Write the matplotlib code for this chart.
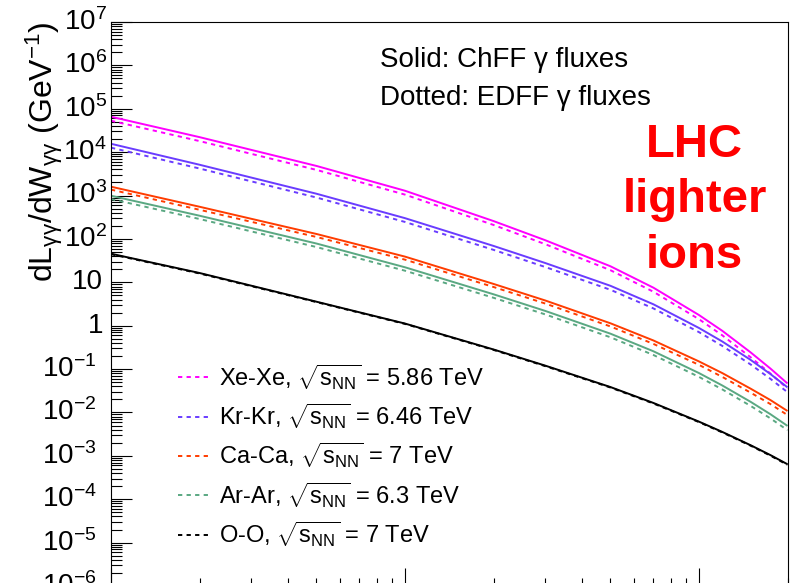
import matplotlib
matplotlib.use("Agg")
import matplotlib.pyplot as plt
import matplotlib.ticker as mticker
from matplotlib.transforms import blended_transform_factory

plt.rcParams['font.family'] = ['Liberation Sans', 'DejaVu Sans']
plt.rcParams['mathtext.fontset'] = 'custom'
plt.rcParams['mathtext.rm'] = 'Liberation Sans'
plt.rcParams['mathtext.it'] = 'Liberation Sans'
plt.rcParams['mathtext.bf'] = 'Liberation Sans:bold'
plt.rcParams['mathtext.sf'] = 'Liberation Sans'

# ---- data ----
W = [1, 2, 5, 10, 20, 30, 50, 70, 100, 120, 150, 175, 200]

xexe_chff = [6.55e4, 2.22e4, 4.81e3, 1.29e3, 258, 93.3, 23.4, 7.51, 1.76, 0.762, 0.241, 0.1027, 0.0466]
xexe_edff = [5.3e4, 1.80e4, 3.9e3, 1.05e3, 210, 75.6, 19.0, 6.05, 1.41, 0.60, 0.186, 0.079, 0.0355]
krkr_chff = [1.56e4, 5.13e3, 1.10e3, 301, 69.0, 27.8, 8.30, 3.11, 0.885, 0.432, 0.162, 0.0767, 0.0379]
krkr_edff = [1.27e4, 4.2e3, 900, 246, 56, 22.5, 6.72, 2.50, 0.71, 0.342, 0.127, 0.0595, 0.0293]
caca_chff = [1.60e3, 552, 130, 39.1, 9.18, 3.81, 1.135, 0.456, 0.150, 0.0809, 0.0352, 0.0193, 0.0108]
caca_edff = [1.37e3, 470, 111, 33.3, 7.8, 3.24, 0.96, 0.38, 0.125, 0.066, 0.0285, 0.0156, 0.0087]
arar_chff = [989, 343, 78.3, 22.2, 5.30, 2.19, 0.654, 0.257, 0.0809, 0.0419, 0.0175, 0.0091, 0.0049]
arar_edff = [830, 288, 65, 18.5, 4.4, 1.82, 0.54, 0.211, 0.066, 0.034, 0.0141, 0.0073, 0.0039]
oo_chff = [45.6, 16.4, 3.57, 1.12, 0.283, 0.120, 0.0385, 0.01655, 0.00614, 0.00356, 0.00175, 0.00104, 0.00064]
oo_edff = [44.5, 16.0, 3.5, 1.10, 0.277, 0.117, 0.0376, 0.0161, 0.0060, 0.00347, 0.00171, 0.00101, 0.00062]

labels = [r"Xe-Xe, $\sqrt{\mathrm{s}_{\mathrm{NN}}}$ = 5.86 TeV",
          r"Kr-Kr, $\sqrt{\mathrm{s}_{\mathrm{NN}}}$ = 6.46 TeV",
          r"Ca-Ca, $\sqrt{\mathrm{s}_{\mathrm{NN}}}$ = 7 TeV",
          r"Ar-Ar, $\sqrt{\mathrm{s}_{\mathrm{NN}}}$ = 6.3 TeV",
          r"O-O, $\sqrt{\mathrm{s}_{\mathrm{NN}}}$ = 7 TeV"]
colors = ["#ff00ff", "#6a3cff", "#ff3c00", "#5aa882", "#000000"]

yticks = [1e-6, 1e-5, 1e-4, 1e-3, 1e-2, 1e-1, 1, 10, 1e2, 1e3, 1e4, 1e5, 1e6, 1e7]
ytick_labels = [r"$10^{-6}$", r"$10^{-5}$", r"$10^{-4}$", r"$10^{-3}$", r"$10^{-2}$",
                r"$10^{-1}$", "1", "10", r"$10^{2}$", r"$10^{3}$", r"$10^{4}$",
                r"$10^{5}$", r"$10^{6}$", r"$10^{7}$"]

# ---- figure ----
fig = plt.figure(figsize=(7.92, 5.83), dpi=100)
L, R, T, B = 111, 787.5, 22, 586
ax = fig.add_axes([L / 792, (583 - B) / 583, (R - L) / 792, (B - T) / 583])
ax.set_xscale('log')
ax.set_yscale('log')
ax.set_xlim(1, 200)
ax.set_ylim(1e-6, 1e7)

chff = [xexe_chff, krkr_chff, caca_chff, arar_chff, oo_chff]
edff = [xexe_edff, krkr_edff, caca_edff, arar_edff, oo_edff]
handles = []
for s, d, c, lab in zip(chff, edff, colors, labels):
    ax.plot(W, s, color=c, lw=1.4, solid_capstyle='butt', solid_joinstyle='round')
    h, = ax.plot(W, d, color=c, lw=1.4, dashes=(2.2, 2.2), label=lab)
    handles.append(h)

for sp in ax.spines.values():
    sp.set_linewidth(0.8)

ax.yaxis.set_major_locator(mticker.FixedLocator(yticks))
ax.yaxis.set_major_formatter(mticker.NullFormatter())
ax.yaxis.set_minor_locator(mticker.LogLocator(base=10, subs=range(2, 10), numticks=50))
ax.yaxis.set_minor_formatter(mticker.NullFormatter())
ax.xaxis.set_major_formatter(mticker.NullFormatter())
ax.xaxis.set_minor_locator(mticker.LogLocator(base=10, subs=range(2, 10), numticks=50))
ax.xaxis.set_minor_formatter(mticker.NullFormatter())
ax.tick_params(axis='y', which='major', direction='in', length=15, width=0.8)
ax.tick_params(axis='y', which='minor', direction='in', length=8, width=0.8)
ax.tick_params(axis='x', which='major', direction='in', length=13, width=0.8)
ax.tick_params(axis='x', which='minor', direction='in', length=6, width=0.8)

# y tick labels drawn at tick positions
tr = blended_transform_factory(ax.transAxes, ax.transData)
for v, lab in zip(yticks, ytick_labels):
    xoff = -0.006 if v >= 1e2 else (-0.012 if v >= 1 else -0.021)
    ax.text(xoff, v, lab, transform=tr, ha='right', va='center', fontsize=20,
            clip_on=False)

# y axis title
fig.text(44 / 792, 1 - 21 / 583, r"dL$_{\gamma\gamma}$/dW$_{\gamma\gamma}$ (GeV$^{-1}$)",
         rotation=90, ha='center', va='top', fontsize=23)

# annotations
ax.text(0.3976, 0.920, "Solid: ChFF γ fluxes", transform=ax.transAxes,
        fontsize=20, va='baseline', ha='left')
ax.text(0.3976, 0.853, "Dotted: EDFF γ fluxes", transform=ax.transAxes,
        fontsize=20, va='baseline', ha='left')
for txt, yb in zip(["LHC", "lighter", "ions"], [157, 212, 268]):
    ax.text(0.863, (B - yb) / (B - T), txt, transform=ax.transAxes, color='#ff0000',
            fontsize=34, fontweight='bold', ha='center', va='baseline')

leg = ax.legend(handles=handles, loc='upper left', bbox_to_anchor=(0.099, 0.397),
                frameon=False, fontsize=17, handlelength=1.45, handletextpad=0.3,
                labelspacing=0.42, borderpad=0, borderaxespad=0)

fig.savefig("out.png", dpi=100)
